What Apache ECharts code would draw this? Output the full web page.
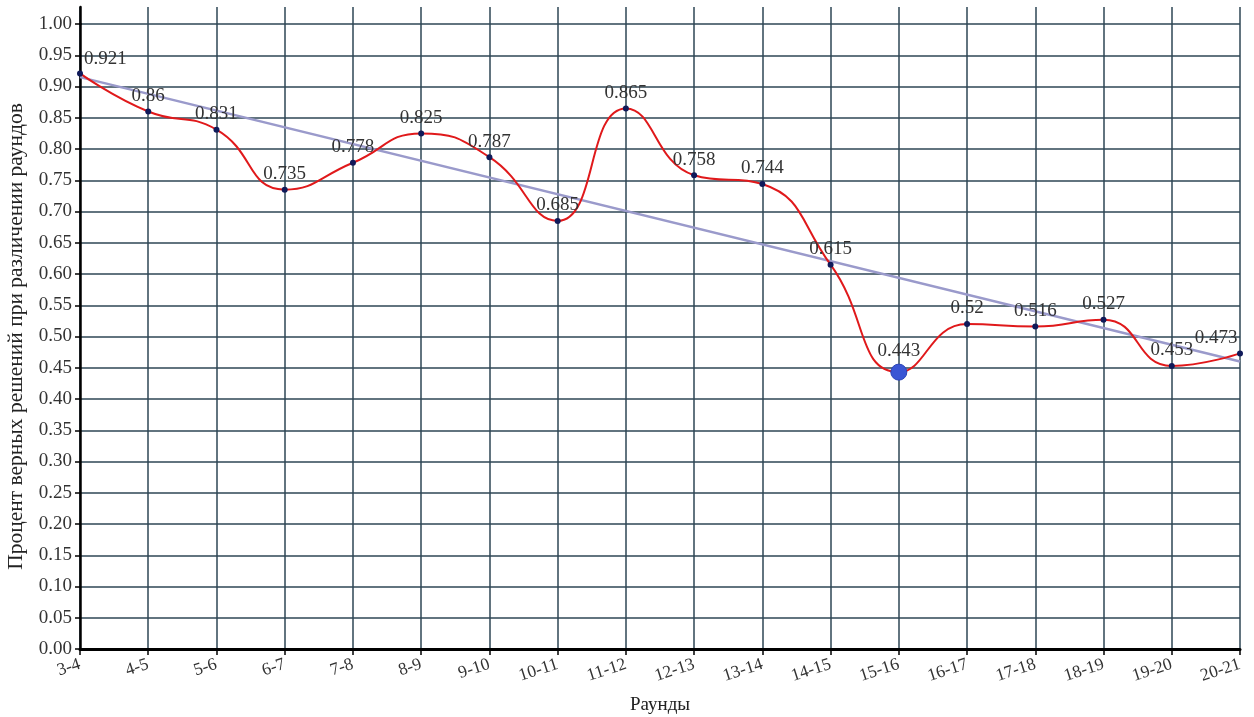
<!DOCTYPE html>
<html>
<head>
<meta charset="utf-8">
<script src="https://cdn.jsdelivr.net/npm/echarts@6/dist/echarts.min.js"></script>
<style>
  html, body { margin: 0; padding: 0; background: #fff; }
  #chart { width: 1254px; height: 717px; }
</style>
</head>
<body>
<div id="chart"></div>
<script>
const rounds = ['3-4', '4-5', '5-6', '6-7', '7-8', '8-9', '9-10', '10-11', '11-12',
  '12-13', '13-14', '14-15', '15-16', '16-17', '17-18', '18-19', '19-20', '20-21'];
const accuracy = [0.921, 0.86, 0.831, 0.735, 0.778, 0.825, 0.787, 0.685, 0.865,
  0.758, 0.744, 0.615, 0.443, 0.52, 0.516, 0.527, 0.453, 0.473];
// линия тренда: значения на концах
const trendStart = 0.915;
const trendEnd = 0.460;
const highlightIndex = 12;

const serif = '"Liberation Serif", "DejaVu Serif", serif';
const gridColor = '#2e4655';

const pointData = accuracy.map((v, i) => {
  const item = { value: v };
  if (i === highlightIndex) {
    item.symbolSize = 16;
    item.itemStyle = { color: '#3a56d4', borderColor: '#2a44b8', borderWidth: 1 };
  }
  if (i === 0) {
    item.label = { position: 'right', offset: [-2, -14] };
  }
  if (i === accuracy.length - 1) {
    item.label = { offset: [-24, 0] };
  }
  return item;
});

const trendData = rounds.map((r, i) => {
  if (i === 0) return trendStart;
  if (i === rounds.length - 1) return trendEnd;
  return null;
});

const chart = echarts.init(document.getElementById('chart'));
chart.setOption({
  animation: false,
  backgroundColor: '#fff',
  textStyle: { fontFamily: serif },
  grid: [
    { left: 80, right: 14, top: 24, bottom: 68, containLabel: false, outerBoundsMode: 'none' },
    { left: 80, right: 14, top: 7, height: 17, containLabel: false, outerBoundsMode: 'none' }
  ],
  xAxis: [
    {
      type: 'category',
      data: rounds,
      boundaryGap: false,
      name: 'Раунды',
      nameLocation: 'middle',
      nameGap: 47,
      nameTextStyle: { fontFamily: serif, fontSize: 19, color: '#222' },
      axisLine: { lineStyle: { color: '#000', width: 3 } },
      axisTick: { show: true, length: 6, lineStyle: { color: '#000', width: 1.5 } },
      axisLabel: {
        rotate: 18, fontFamily: serif, fontSize: 17.5, color: '#333',
        margin: 15, interval: 0
      },
      splitLine: { show: true, lineStyle: { color: gridColor, width: 1.5 } }
    },
    {
      type: 'category',
      gridIndex: 1,
      data: rounds,
      boundaryGap: false,
      axisLine: { show: false },
      axisTick: { show: false },
      axisLabel: { show: false },
      splitLine: { show: true, lineStyle: { color: gridColor, width: 1.5 } }
    }
  ],
  yAxis: [
    {
      type: 'value',
      min: 0,
      max: 1,
      interval: 0.05,
      name: 'Процент верных решений при различении раундов',
      nameLocation: 'middle',
      nameGap: 49,
      nameTextStyle: { fontFamily: serif, fontSize: 21.5, color: '#222' },
      axisLine: { show: true, lineStyle: { color: '#000', width: 2.5 } },
      axisTick: { show: true, length: 5, lineStyle: { color: '#000', width: 1.5 } },
      axisLabel: {
        fontFamily: serif, fontSize: 19, color: '#333', margin: 8,
        formatter: (v) => v.toFixed(2)
      },
      splitLine: { show: true, lineStyle: { color: gridColor, width: 1.5 } }
    },
    {
      type: 'value',
      gridIndex: 1,
      min: 0,
      max: 1,
      axisLine: { show: true, lineStyle: { color: '#000', width: 2.5 } },
      axisTick: { show: false },
      axisLabel: { show: false },
      splitLine: { show: false }
    }
  ],
  series: [
    {
      name: 'Тренд',
      type: 'line',
      data: trendData,
      connectNulls: true,
      symbol: 'none',
      lineStyle: { color: '#9a9acb', width: 2.5 },
      z: 2
    },
    {
      name: 'Точность',
      type: 'line',
      data: pointData,
      smooth: 0.5,
      symbol: 'circle',
      symbolSize: 6,
      itemStyle: { color: '#101a5a' },
      lineStyle: { color: '#e0191b', width: 2 },
      label: {
        show: true,
        position: 'top',
        distance: 3,
        fontFamily: serif,
        fontSize: 19,
        color: '#333'
      },
      z: 3
    }
  ]
});
</script>
</body>
</html>
